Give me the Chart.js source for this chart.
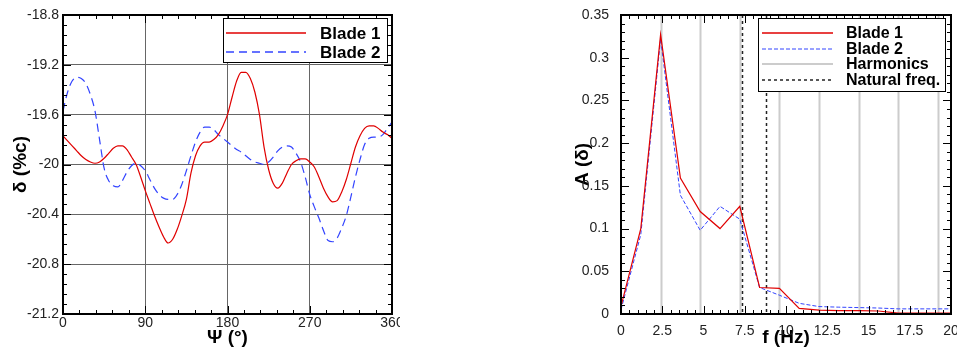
<!DOCTYPE html>
<html>
<head>
<meta charset="utf-8">
<script src="https://cdn.jsdelivr.net/npm/chart.js@4.4.1/dist/chart.umd.min.js"></script>
<style>
  body { margin: 0; background: #fff; width: 957px; height: 351px; position: relative; overflow: hidden; }
  canvas { position: absolute; top: 0; }
  #left { left: 0; }
  #right { left: 560px; }
</style>
</head>
<body>
<canvas id="left" width="400" height="351"></canvas>
<canvas id="right" width="397" height="351"></canvas>
<script>
// ---- left: deflection vs azimuth ----
const psi = [0,5,10,15,20,25,30,35,40,45,50,55,60,65,70,75,80,85,90,95,100,105,110,115,120,125,130,135,140,145,150,155,160,165,170,175,180,
  185,190,195,200,205,210,215,220,225,230,235,240,245,250,255,260,265,270,275,280,285,290,295,300,305,310,315,320,325,330,335,340,345,350,355,360];
const blade1Delta = [-19.77,-19.81,-19.85,-19.89,-19.93,-19.96,-19.98,-19.99,-19.98,-19.95,-19.91,-19.87,-19.85,-19.85,-19.88,-19.94,-20.00,-20.10,-20.21,
  -20.31,-20.41,-20.50,-20.58,-20.63,-20.60,-20.52,-20.41,-20.28,-20.07,-19.93,-19.85,-19.82,-19.82,-19.80,-19.76,-19.69,-19.60,-19.46,-19.33,-19.26,
  -19.26,-19.31,-19.42,-19.60,-19.86,-20.04,-20.15,-20.19,-20.15,-20.07,-20.00,-19.97,-19.955,-19.955,-19.98,-20.02,-20.10,-20.19,-20.26,-20.30,
  -20.29,-20.22,-20.12,-19.99,-19.86,-19.77,-19.71,-19.69,-19.69,-19.71,-19.74,-19.76,-19.79];
const blade2Delta = [-19.57,-19.42,-19.33,-19.30,-19.31,-19.35,-19.44,-19.57,-19.80,-20.03,-20.13,-20.17,-20.18,-20.13,-20.06,-20.01,-19.99,-20.01,-20.05,
  -20.12,-20.19,-20.24,-20.27,-20.28,-20.28,-20.24,-20.16,-20.05,-19.93,-19.82,-19.74,-19.70,-19.70,-19.72,-19.76,-19.79,-19.82,-19.85,-19.88,-19.90,
  -19.93,-19.96,-19.98,-19.99,-20.00,-19.98,-19.94,-19.89,-19.86,-19.85,-19.86,-19.91,-19.98,-20.10,-20.24,-20.34,-20.43,-20.53,-20.61,-20.62,
  -20.59,-20.51,-20.41,-20.26,-20.10,-19.96,-19.84,-19.79,-19.78,-19.78,-19.76,-19.71,-19.66];
const psiTicks = [0, 90, 180, 270, 360];
const psiTickLabels = ['0', '90', '180', '270', '360'];
const deltaTicks = [-21.2, -20.8, -20.4, -20, -19.6, -19.2, -18.8];
const deltaTickLabels = ['-21.2', '-20.8', '-20.4', '-20', '-19.6', '-19.2', '-18.8'];

// ---- right: amplitude spectrum ----
const freq = [0,1.2,2.4,3.6,4.8,6.0,7.2,8.4,9.6,10.8,12.0,13.2,14.4,15.6,16.8,18.0,19.2,20.4];
const blade1Amp = [0.009,0.100,0.327,0.159,0.120,0.100,0.126,0.031,0.030,0.0065,0.0045,0.004,0.004,0.0035,0.001,0.001,0.001,0.001];
const blade2Amp = [0.005,0.093,0.322,0.139,0.098,0.126,0.111,0.031,0.022,0.0125,0.0087,0.008,0.0075,0.007,0.006,0.006,0.006,0.006];
const harmonics = [2.4, 4.8, 7.2, 9.6, 12.0, 14.4, 16.8, 19.2];
const naturalFreq = [7.33, 8.8];
const freqTicks = [0, 2.5, 5, 7.5, 10, 12.5, 15, 17.5, 20];
const freqTickLabels = ['0', '2.5', '5', '7.5', '10', '12.5', '15', '17.5', '20'];
const ampTicks = [0, 0.05, 0.1, 0.15, 0.2, 0.25, 0.3, 0.35];
const ampTickLabels = ['0', '0.05', '0.1', '0.15', '0.2', '0.25', '0.3', '0.35'];

const FONT = '"Liberation Sans", Arial, sans-serif';
const tickFont = { family: FONT, size: 14 };
const titleFont = { family: FONT, size: 19, weight: 'bold' };
const RED = '#e00000';
const BLUE = '#3344ff';

// frame + inward ticks on all four sides
function frameTicks(xMinor, xSub, yMinor, ySub) {
  return {
    id: 'frameTicks',
    afterDraw(chart) {
      const { ctx, chartArea: a, scales: { x, y } } = chart;
      ctx.save();
      ctx.strokeStyle = '#000';
      ctx.lineWidth = 1;
      ctx.beginPath();
      let n = Math.round((x.max - x.min) / xMinor);
      for (let i = 0; i <= n; i++) {
        const px = Math.round(x.getPixelForValue(x.min + i * xMinor)) + 0.5;
        const len = i % xSub === 0 ? 8 : 4;
        ctx.moveTo(px, a.bottom); ctx.lineTo(px, a.bottom - len);
        ctx.moveTo(px, a.top); ctx.lineTo(px, a.top + len);
      }
      n = Math.round((y.max - y.min) / yMinor);
      for (let i = 0; i <= n; i++) {
        const py = Math.round(y.getPixelForValue(y.min + i * yMinor)) + 0.5;
        const len = i % ySub === 0 ? 8 : 4;
        ctx.moveTo(a.left, py); ctx.lineTo(a.left + len, py);
        ctx.moveTo(a.right, py); ctx.lineTo(a.right - len, py);
      }
      ctx.stroke();
      ctx.lineWidth = 2;
      ctx.strokeRect(a.left, a.top, a.right - a.left, a.bottom - a.top);
      ctx.restore();
    }
  };
}

// boxed legend drawn inside the plot
function boxLegend(o) {
  return {
    id: 'boxLegend',
    afterDraw(chart) {
      const ctx = chart.ctx;
      ctx.save();
      ctx.fillStyle = '#fff';
      ctx.fillRect(o.x, o.y, o.w, o.h);
      ctx.strokeStyle = '#000';
      ctx.lineWidth = 1;
      ctx.strokeRect(o.x + 0.5, o.y + 0.5, o.w, o.h);
      ctx.font = o.font;
      ctx.textBaseline = 'middle';
      o.items.forEach((it, i) => {
        const yy = Math.round(o.y + o.row0 + i * o.dy);
        ctx.beginPath();
        ctx.setLineDash(it.dash || []);
        ctx.strokeStyle = it.color;
        ctx.lineWidth = it.width;
        ctx.moveTo(o.x + o.l0, yy);
        ctx.lineTo(o.x + o.l1, yy);
        ctx.stroke();
        ctx.setLineDash([]);
        ctx.fillStyle = '#000';
        ctx.fillText(it.label, o.x + o.tx, yy + 1);
      });
      ctx.restore();
    }
  };
}

const refLines = {
  id: 'refLines',
  beforeDatasetsDraw(chart) {
    const { ctx, chartArea: a, scales: { x } } = chart;
    ctx.save();
    ctx.beginPath();
    harmonics.forEach(f => {
      const px = Math.round(x.getPixelForValue(f)) + 0.5;
      ctx.moveTo(px, a.top); ctx.lineTo(px, a.bottom);
    });
    ctx.strokeStyle = '#cccccc';
    ctx.lineWidth = 2;
    ctx.stroke();
    ctx.beginPath();
    naturalFreq.forEach(f => {
      const px = Math.round(x.getPixelForValue(f)) + 0.5;
      ctx.moveTo(px, a.top); ctx.lineTo(px, a.bottom);
    });
    ctx.setLineDash([3, 3]);
    ctx.strokeStyle = '#222';
    ctx.lineWidth = 1.5;
    ctx.stroke();
    ctx.restore();
  }
};

function pts(xs, ys) { return xs.map((v, i) => ({ x: v, y: ys[i] })); }

function axis(min, max, ticks, labels, title, titlePad, isX, size) {
  return {
    type: 'linear', min: min, max: max,
    afterBuildTicks: s => { s.ticks = ticks.map(v => ({ value: v })); },
    ticks: { callback: (v, i) => labels[i], font: tickFont, color: '#222', padding: isX ? 1 : 4, maxRotation: 0, autoSkip: false },
    border: { display: false },
    title: { display: true, text: title, font: titleFont, color: '#000', padding: titlePad },
    afterFit: s => {
      if (isX) s.height = size; else s.width = size;
      s.paddingLeft = 0; s.paddingRight = 0; s.paddingTop = 0; s.paddingBottom = 0;
    }
  };
}

// left chart
const lx = axis(0, 360, psiTicks, psiTickLabels, 'Ψ (°)', { top: 0, bottom: 2 }, true, 37);
lx.grid = { color: '#666', lineWidth: 1, drawTicks: false };
const ly = axis(-21.2, -18.8, deltaTicks, deltaTickLabels, 'δ (%c)', { top: 9, bottom: 0 }, false, 63);
ly.grid = { color: '#666', lineWidth: 1, drawTicks: false };

new Chart(document.getElementById('left'), {
  type: 'line',
  data: {
    datasets: [
      { label: 'Blade 1', data: pts(psi, blade1Delta), borderColor: RED, borderWidth: 1.2, pointRadius: 0, cubicInterpolationMode: 'monotone' },
      { label: 'Blade 2', data: pts(psi, blade2Delta), borderColor: BLUE, borderWidth: 1.2, borderDash: [8, 5], pointRadius: 0, cubicInterpolationMode: 'monotone' }
    ]
  },
  options: {
    responsive: false, animation: false, devicePixelRatio: 1,
    layout: { padding: { top: 15, right: 8, left: 0, bottom: 0 } },
    plugins: { legend: { display: false }, tooltip: { enabled: false } },
    scales: { x: lx, y: ly }
  },
  plugins: [frameTicks(18, 5, 0.08, 5), boxLegend({
    x: 223, y: 18, w: 164, h: 44, row0: 15, dy: 18.7, l0: 3, l1: 83, tx: 97,
    font: 'bold 17px ' + FONT,
    items: [
      { label: 'Blade 1', color: RED, width: 1.3 },
      { label: 'Blade 2', color: BLUE, width: 1.3, dash: [8, 5] }
    ]
  })]
});

// right chart
const rx = axis(0, 20, freqTicks, freqTickLabels, 'f (Hz)', { top: 0, bottom: 2 }, true, 37);
rx.grid = { display: false };
const ry = axis(0, 0.35, ampTicks, ampTickLabels, 'A (δ)', { top: 11, bottom: 0 }, false, 61);
ry.grid = { display: false };

new Chart(document.getElementById('right'), {
  type: 'line',
  data: {
    datasets: [
      { label: 'Blade 1', data: pts(freq, blade1Amp), borderColor: RED, borderWidth: 1.2, pointRadius: 0, tension: 0 },
      { label: 'Blade 2', data: pts(freq, blade2Amp), borderColor: BLUE, borderWidth: 1, borderDash: [4, 2], pointRadius: 0, tension: 0 }
    ]
  },
  options: {
    responsive: false, animation: false, devicePixelRatio: 1,
    layout: { padding: { top: 15, right: 6, left: 0, bottom: 0 } },
    plugins: { legend: { display: false }, tooltip: { enabled: false } },
    scales: { x: rx, y: ry }
  },
  plugins: [refLines, frameTicks(0.5, 5, 0.01, 5), boxLegend({
    x: 198, y: 18, w: 187, h: 73, row0: 14.7, dy: 15.8, l0: 4, l1: 75, tx: 88,
    font: 'bold 16px ' + FONT,
    items: [
      { label: 'Blade 1', color: RED, width: 1.3 },
      { label: 'Blade 2', color: BLUE, width: 1, dash: [4, 2] },
      { label: 'Harmonics', color: '#cccccc', width: 2 },
      { label: 'Natural freq.', color: '#222', width: 1.5, dash: [3, 3] }
    ]
  })]
});
</script>
</body>
</html>
